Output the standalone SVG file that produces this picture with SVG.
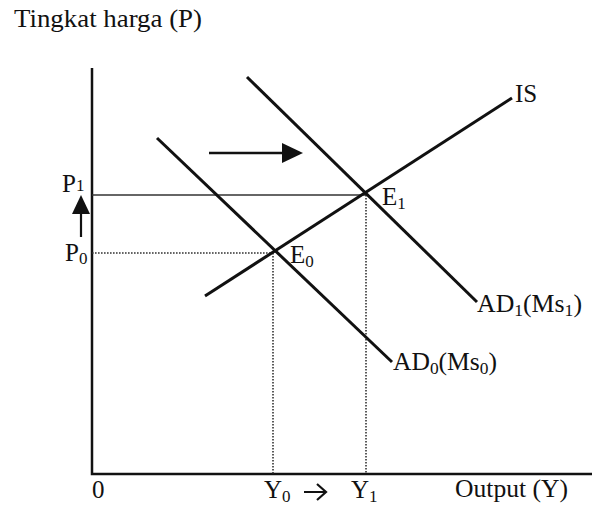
<svg xmlns="http://www.w3.org/2000/svg" width="592" height="518" viewBox="0 0 592 518">
<style>
text{font-family:"Liberation Serif","Times New Roman",serif;fill:#111;font-size:25px}
.sub{font-size:17px}
.curve{stroke:#111;stroke-width:3;fill:none;stroke-linecap:butt}
.axis{stroke:#111;stroke-width:2.5;fill:none}
.thin{stroke:#333;stroke-width:1.4;fill:none}
.dot{stroke:#333;stroke-width:1.6;fill:none;stroke-dasharray:1.6 1.4}
</style>
<rect width="592" height="518" fill="#fff"/>
<text x="14" y="27" textLength="188" lengthAdjust="spacingAndGlyphs">Tingkat harga (P)</text>
<g id="axes">
<path class="axis" d="M92,68 V474 H592"/>
</g>
<g id="connectors">
<path class="thin" d="M92,195 H366"/>
<path class="dot" d="M92,253 H273"/>
<path class="dot" d="M273,253 V474"/>
<path class="dot" d="M366,195 V474"/>
<path d="M209,153 H283" stroke="#111" stroke-width="2.5"/>
<path d="M282,143 L303,153 L282,163 Z" fill="#111"/>
<path d="M81,237 V213" stroke="#111" stroke-width="2.2"/>
<path d="M72,214 L81,195 L90,214 Z" fill="#111"/>
</g>
<g id="IS">
<path class="curve" d="M205,296 L512,98"/>
<text x="515" y="102" font-size="24">IS</text>
</g>
<g id="AD1">
<path class="curve" d="M247,77 L477,302"/>
<text x="477" y="312" textLength="105" lengthAdjust="spacingAndGlyphs">AD<tspan class="sub" dy="4">1</tspan><tspan dy="-4">(Ms</tspan><tspan class="sub" dy="4">1</tspan><tspan dy="-4">)</tspan></text>
</g>
<g id="AD0">
<path class="curve" d="M157,138 L392,362"/>
<text x="393" y="370" textLength="104" lengthAdjust="spacingAndGlyphs">AD<tspan class="sub" dy="4">0</tspan><tspan dy="-4">(Ms</tspan><tspan class="sub" dy="4">0</tspan><tspan dy="-4">)</tspan></text>
</g>
<g id="E1">
<text x="382" y="205">E<tspan class="sub" dy="4">1</tspan></text>
</g>
<g id="E0">
<text x="290" y="263">E<tspan class="sub" dy="4">0</tspan></text>
</g>
<g id="labels">
<text x="62" y="192">P<tspan class="sub" dy="-1">1</tspan></text>
<text x="65" y="261">P<tspan class="sub" dy="3">0</tspan></text>
<text x="92" y="498">0</text>
<text x="264" y="498">Y<tspan class="sub" dy="4">0</tspan></text>
<path d="M304,492 H326 M317,484 L326,492 L317,500" stroke="#111" stroke-width="2.2" fill="none"/>
<text x="351" y="498">Y<tspan class="sub" dy="4">1</tspan></text>
<text x="455" y="497" textLength="113" lengthAdjust="spacingAndGlyphs">Output (Y)</text>
</g>
</svg>
